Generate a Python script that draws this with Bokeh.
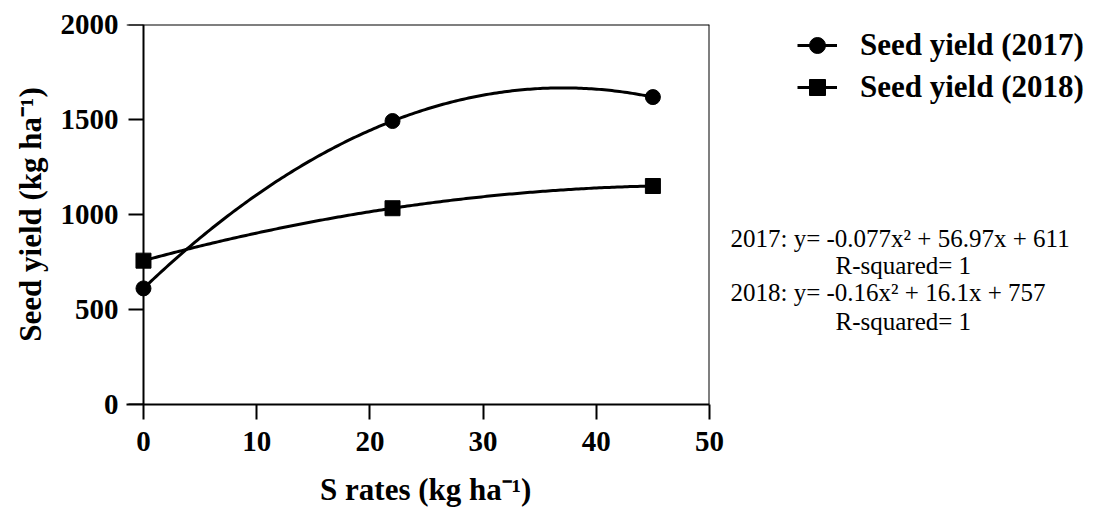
import numpy as np
from bokeh.plotting import figure
from bokeh.layouts import row
from bokeh.models import (Range1d, FixedTicker, Legend, LegendItem, Label, Span,
                          LinearAxis)
from bokeh.embed import file_html
from bokeh.resources import INLINE

# ---- data ----
s_rates = [0, 22, 45]
yield_2017 = [611, 1492, 1618]
yield_2018 = [757, 1033, 1150]
x_ticks = [0, 10, 20, 30, 40, 50]
y_ticks = [0, 500, 1000, 1500, 2000]
series_names = ["Seed yield (2017)", "Seed yield (2018)"]
equation_lines = [
    "2017: y= -0.077x\u00b2 + 56.97x + 611",
    "R-squared= 1",
    "2018: y= -0.16x\u00b2 + 16.1x + 757",
    "R-squared= 1",
]

FONT = "Liberation Serif"
MAIN_W = 726
SIDE_W = 1107 - MAIN_W
H = 510
FRAME_TOP, FRAME_BOTTOM = 24, 404

# ---------------- main chart ----------------
p = figure(width=MAIN_W, height=H, output_backend="svg", toolbar_location=None,
           x_range=Range1d(-1.5, 50), y_range=Range1d(0, 2000),
           min_border_left=126, min_border_right=MAIN_W - 709,
           min_border_top=FRAME_TOP, min_border_bottom=H - FRAME_BOTTOM)

p.grid.visible = False
p.outline_line_color = None
p.background_fill_color = "white"
p.border_fill_color = "white"

# quadratic trend curves fitted to the data (as in the reference)
xs = np.linspace(min(s_rates), max(s_rates), 200)
c17 = np.polyfit(s_rates, yield_2017, 2)
c18 = np.polyfit(s_rates, yield_2018, 2)

p.line(xs, np.polyval(c17, xs), line_width=3, line_color="black")
p.scatter(s_rates, yield_2017, marker="circle", size=15, color="black")
p.line(xs, np.polyval(c18, xs), line_width=3, line_color="black")
p.scatter(s_rates, yield_2018, marker="square", size=15, color="black")

# box edges (top and right)
p.add_layout(Span(location=2000, dimension="width", line_color="black", line_width=2))
p.add_layout(Span(location=50, dimension="height", line_color="black", line_width=2))


def style_axis(ax):
    ax.axis_line_width = 2
    ax.axis_line_color = "black"
    ax.major_tick_line_width = 2
    ax.major_tick_line_color = "black"
    ax.major_tick_out = 15
    ax.major_tick_in = 0
    ax.minor_tick_line_color = None
    ax.major_label_text_font = FONT
    ax.major_label_text_font_style = "bold"
    ax.major_label_text_font_size = "29px"
    ax.major_label_text_color = "black"
    ax.axis_label_text_font = FONT
    ax.axis_label_text_font_style = "bold"
    ax.axis_label_text_font_size = "31px"
    ax.axis_label_text_color = "black"


xa = p.xaxis[0]
style_axis(xa)
xa.ticker = FixedTicker(ticks=x_ticks)
xa.major_label_standoff = 12
xa.axis_label = "\u2002S rates (kg ha\u207b\u00b9)"
xa.axis_label_standoff = 18

# y axis: labels/title from the regular left axis ...
ya = p.yaxis[0]
style_axis(ya)
ya.ticker = FixedTicker(ticks=y_ticks)
ya.axis_line_color = None
ya.major_tick_line_color = None
ya.major_tick_out = 0
ya.major_label_standoff = 8
ya.axis_label = "Seed yield (kg ha\u207b\u00b9)"
ya.axis_label_standoff = 10

# ... and the axis line + ticks sitting at x = 0 (no labels of its own)
ya0 = LinearAxis(ticker=FixedTicker(ticks=y_ticks), fixed_location=0)
style_axis(ya0)
ya0.major_label_overrides = {t: "" for t in y_ticks}
ya0.major_label_standoff = 0
p.add_layout(ya0, "left")

# ---------------- side panel: legend + equations ----------------
# its frame is aligned with the main frame; ranges map to page pixels
s = figure(width=SIDE_W, height=H, output_backend="svg", toolbar_location=None,
           x_range=Range1d(MAIN_W, 1107), y_range=Range1d(FRAME_BOTTOM, FRAME_TOP),
           x_axis_type=None, y_axis_type=None,
           min_border_left=0, min_border_right=0,
           min_border_top=FRAME_TOP, min_border_bottom=H - FRAME_BOTTOM)
s.grid.visible = False
s.outline_line_color = None
s.background_fill_color = "white"
s.border_fill_color = "white"

# legend proxies (same data; they fall outside this panel's ranges, so only the legend shows them)
dl17 = s.line(s_rates, yield_2017, line_width=3, line_color="black")
dm17 = s.scatter(s_rates, yield_2017, marker="circle", size=14, color="black")
dl18 = s.line(s_rates, yield_2018, line_width=3, line_color="black")
dm18 = s.scatter(s_rates, yield_2018, marker="square", size=14, color="black")

legend_top = 25
legend_h = 40 * 2 + 2
legend = Legend(items=[LegendItem(label=series_names[0], renderers=[dl17, dm17]),
                       LegendItem(label=series_names[1], renderers=[dl18, dm18])],
                location=(797 - MAIN_W, FRAME_BOTTOM - legend_top - legend_h),
                label_text_font=FONT, label_text_font_style="bold",
                label_text_font_size="31px", label_text_color="black",
                glyph_width=40, glyph_height=40, label_height=40,
                label_standoff=23, spacing=2, padding=0, margin=0,
                border_line_color=None, background_fill_alpha=0)
s.add_layout(legend)

eq_x = [730, 835, 730, 835]
eq_base = [238, 265, 292, 321]
for t, x, yb in zip(equation_lines, eq_x, eq_base):
    s.add_layout(Label(x=x, y=yb, text=t,
                       text_font=FONT, text_font_size="25px", text_color="black",
                       text_baseline="alphabetic", text_align="left"))

layout = row(p, s, spacing=0)
open("out.html", "w").write(file_html(layout, INLINE))
